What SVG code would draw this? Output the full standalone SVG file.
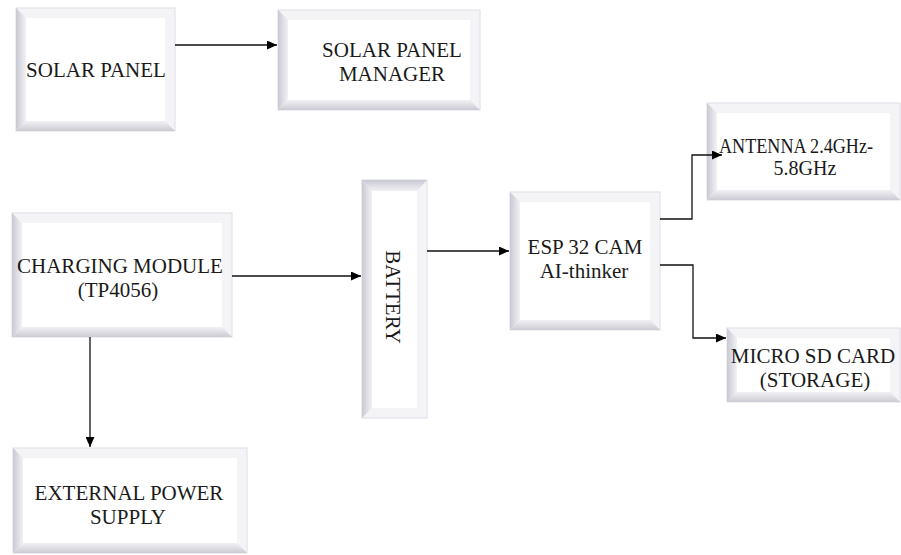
<svg xmlns="http://www.w3.org/2000/svg" width="901" height="555" viewBox="0 0 901 555">
<defs>
<linearGradient id="gl" x1="0" y1="0" x2="1" y2="0"><stop offset="0" stop-color="#c9c9d3"/><stop offset="1" stop-color="#f1f1f5"/></linearGradient>
<linearGradient id="gb" x1="0" y1="0" x2="0" y2="1"><stop offset="0" stop-color="#f1f1f5"/><stop offset="1" stop-color="#cbcbd3"/></linearGradient>
<linearGradient id="gt" x1="0" y1="0" x2="0" y2="1"><stop offset="0" stop-color="#c9c9d3"/><stop offset="1" stop-color="#f1f1f5"/></linearGradient>
<marker id="arr" markerUnits="userSpaceOnUse" markerWidth="10" markerHeight="9" refX="10" refY="4.5" orient="auto"><path d="M0,0 L10,4.5 L0,9 z" fill="#000"/></marker>
<style>
.o{fill:#f4f4f7;stroke:#dedee6;stroke-width:1}
.l{fill:url(#gl)}
.b{fill:url(#gb)}
.t{fill:url(#gt)}
.f{fill:#ffffff}
.c{fill:none;stroke:#111;stroke-width:1.3;marker-end:url(#arr)}
</style>
</defs>
<rect width="901" height="555" fill="#fff"/>
<g font-family="'Liberation Serif', 'DejaVu Serif', serif" font-size="21" fill="#1a1a1a" text-anchor="middle">
<g id="solar-panel">
<rect class="o" x="16" y="8" width="159" height="123"/>
<polygon class="l" points="16,8 26,18 26,121 16,131"/>
<polygon class="b" points="16,131 26,121 165,121 175,131"/>
<rect class="f" x="26" y="18" width="139" height="103"/>
<text x="96" y="77">SOLAR PANEL</text>
</g>
<g id="solar-panel-manager">
<rect class="o" x="278" y="10" width="202" height="100"/>
<polygon class="l" points="278,10 288,20 288,100 278,110"/>
<polygon class="b" points="278,110 288,100 470,100 480,110"/>
<rect class="f" x="288" y="20" width="182" height="80"/>
<text x="392" y="57">SOLAR PANEL</text>
<text x="392" y="81">MANAGER</text>
</g>
<g id="charging-module">
<rect class="o" x="12" y="213" width="220" height="124"/>
<polygon class="l" points="12,213 22,223 22,327 12,337"/>
<polygon class="b" points="12,337 22,327 222,327 232,337"/>
<rect class="f" x="22" y="223" width="200" height="104"/>
<text x="120" y="273">CHARGING MODULE</text>
<text x="118" y="297">(TP4056)</text>
</g>
<g id="battery">
<rect class="o" x="362" y="180" width="65" height="238"/>
<polygon class="t" points="362,180 427,180 417,191 372,191"/>
<polygon class="l" points="362,180 372,191 372,408 362,418"/>
<rect class="f" x="372" y="191" width="45" height="217"/>
<text transform="translate(386,297) rotate(90)">BATTERY</text>
</g>
<g id="esp32-cam">
<rect class="o" x="510" y="192" width="150" height="138"/>
<polygon class="l" points="510,192 520,202 520,320 510,330"/>
<polygon class="b" points="510,330 520,320 650,320 660,330"/>
<rect class="f" x="520" y="202" width="130" height="118"/>
<text x="585" y="254">ESP 32 CAM</text>
<text x="584" y="278">AI-thinker</text>
</g>
<g id="antenna">
<rect class="o" x="707" y="103" width="193" height="97"/>
<polygon class="l" points="707,103 717,113 717,190 707,200"/>
<polygon class="b" points="707,200 717,190 890,190 900,200"/>
<rect class="f" x="717" y="113" width="173" height="77"/>
<text x="796" y="153" font-size="20" textLength="154" lengthAdjust="spacingAndGlyphs">ANTENNA 2.4GHz-</text>
<text x="805" y="175" font-size="20">5.8GHz</text>
</g>
<g id="micro-sd">
<rect class="o" x="727" y="328" width="173" height="74"/>
<polygon class="l" points="727,328 737,338 737,392 727,402"/>
<polygon class="b" points="727,402 737,392 890,392 900,402"/>
<rect class="f" x="737" y="338" width="153" height="54"/>
<text x="813" y="363">MICRO SD CARD</text>
<text x="815" y="387">(STORAGE)</text>
</g>
<g id="external-power">
<rect class="o" x="13" y="448" width="234" height="105"/>
<polygon class="l" points="13,448 23,458 23,543 13,553"/>
<polygon class="b" points="13,553 23,543 237,543 247,553"/>
<rect class="f" x="23" y="458" width="214" height="85"/>
<text x="129" y="500">EXTERNAL POWER</text>
<text x="128" y="524">SUPPLY</text>
</g>
</g>
<g id="connectors">
<path class="c" d="M175,45 H277"/>
<path class="c" d="M232,276 H361"/>
<path class="c" d="M427,251 H509"/>
<path class="c" d="M660,219 H692 V155 H722"/>
<path class="c" d="M660,265 H693 V338 H726"/>
<path class="c" d="M90,337 V447"/>
</g>
</svg>
